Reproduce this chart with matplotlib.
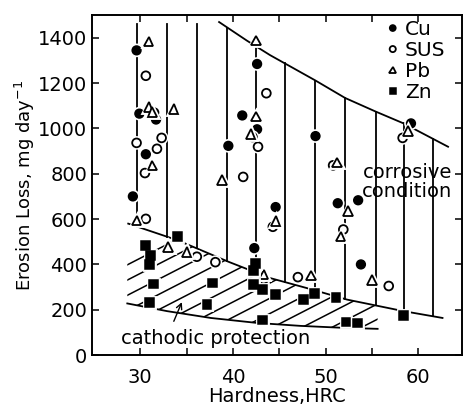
import numpy as np
import matplotlib
matplotlib.use('Agg')
import matplotlib.pyplot as plt
import matplotlib.patheffects as pe
from matplotlib.patches import Polygon

# Cu (filled circles)
cu_x = [29.6, 29.9, 31.5, 31.7, 30.6, 29.2, 42.6, 41.0, 42.6, 39.5, 48.9, 44.6, 42.3, 59.2, 51.3, 53.5, 53.8]
cu_y = [1344, 1065, 1070, 1039, 886, 700, 1284, 1057, 996, 923, 966, 653, 472, 1022, 670, 683, 400]

# SUS (open circles)
sus_x = [30.6, 29.6, 32.3, 31.8, 30.5, 30.6, 36.1, 38.1, 43.6, 42.1, 42.7, 41.1, 50.8, 44.3, 43.3, 47.0, 58.3, 51.9, 56.8]
sus_y = [1232, 936, 958, 910, 803, 601, 434, 410, 1155, 962, 919, 786, 837, 566, 335, 344, 958, 554, 305]

# Pb (open triangles)
pb_x = [30.9, 30.9, 31.3, 33.6, 31.3, 38.8, 29.6, 33.0, 35.0, 42.5, 42.5, 41.9, 44.6, 43.3, 48.4, 58.9, 51.2, 52.4, 51.6, 55.0]
pb_y = [1383, 1095, 1073, 1086, 837, 773, 593, 477, 455, 1387, 1052, 975, 592, 356, 352, 988, 850, 635, 524, 331]

# Zn (filled squares)
zn_x = [30.6, 31.1, 31.0, 31.4, 31.0, 34.0, 37.8, 37.2, 42.4, 42.2, 42.2, 43.2, 44.6, 43.2, 47.6, 48.8, 51.1, 52.2, 53.4, 58.4]
zn_y = [485, 438, 399, 314, 232, 524, 318, 224, 404, 374, 310, 288, 267, 155, 245, 271, 254, 146, 142, 176]

# boundary curves
corr_x = [38.5, 41.5, 44.0, 48.9, 52.1, 55.4, 58.4, 63.2]
corr_y = [1469, 1387, 1323, 1211, 1134, 1074, 1022, 919]
cath_top_x = [28.7, 34.0, 39.5, 44.0, 48.3, 52.3, 58.4, 62.6]
cath_top_y = [580, 507, 412, 340, 292, 245, 194, 164]
cath_bot_x = [28.6, 32.9, 37.6, 42.6, 47.3, 51.6, 55.6]
cath_bot_y = [228, 194, 164, 142, 129, 121, 116]
vline_x = [29.7, 32.9, 36.1, 39.4, 42.5, 45.6, 48.9, 52.1, 55.4, 58.4, 61.6]

fig = plt.figure(figsize=(4.65, 4.12), dpi=100)
ax = fig.add_axes([0.198, 0.138, 0.7955, 0.8256])

# vertical lines between the two regions
for x in vline_x:
    top = min(np.interp(x, corr_x, corr_y), 1460)
    bot = np.interp(x, cath_top_x, cath_top_y)
    ax.plot([x, x], [bot, top], color='black', lw=1.3, zorder=1)

ax.plot(corr_x, corr_y, color='black', lw=1.3, zorder=1)
ax.plot(cath_top_x, cath_top_y, color='black', lw=1.3, zorder=1)
ax.plot(cath_bot_x, cath_bot_y, color='black', lw=1.3, zorder=1)

# hatched cathodic protection region
xs = np.linspace(cath_bot_x[0], cath_bot_x[-1], 40)
poly = np.vstack([np.column_stack([xs, np.interp(xs, cath_top_x, cath_top_y)]),
                  np.column_stack([xs[::-1], np.interp(xs[::-1], cath_bot_x, cath_bot_y)])])
clip = Polygon(poly, closed=True, facecolor='none', edgecolor='none', transform=ax.transData)
ax.add_patch(clip)
slope = 21.0
for c in np.arange(-60, 16, 3.2):
    hx = np.array([20.0, 70.0])
    hy = 100 + slope * (hx - (28 - c))
    ln, = ax.plot(hx, hy, color='black', lw=1.1, zorder=1)
    ln.set_clip_path(clip)

halo = [pe.Stroke(linewidth=3.5, foreground='white'), pe.Normal()]
ms = 6.3
ax.plot(cu_x, cu_y, 'o', ms=ms, mfc='black', mec='black', mew=1.1, label='Cu', path_effects=halo, zorder=3)
ax.plot(sus_x, sus_y, 'o', ms=ms, mfc='white', mec='black', mew=1.3, label='SUS', path_effects=halo, zorder=3)
ax.plot(pb_x, pb_y, '^', ms=ms + 0.5, mfc='white', mec='black', mew=1.3, label='Pb', path_effects=halo, zorder=3)
ax.plot(zn_x, zn_y, 's', ms=ms, mfc='black', mec='black', mew=1.1, label='Zn', path_effects=halo, zorder=3)

ax.annotate('', xy=(34.6, 245), xytext=(33.5, 138),
            arrowprops=dict(arrowstyle='->', color='black', lw=1.0))
ax.text(38.1, 73, 'cathodic protection', ha='center', va='center', fontsize=14)
ax.text(58.8, 765, 'corrosive\ncondition', ha='center', va='center', fontsize=14,
        linespacing=1.0)

ax.set_xlim(24.8, 64.7)
ax.set_ylim(0, 1500)
ax.set_xticks([30, 40, 50, 60])
ax.set_xticks([35, 45, 55], minor=True)
ax.set_yticks(range(0, 1401, 200))
ax.tick_params(which='both', direction='in', top=True, right=True, length=5, width=1.1,
               labelsize=14)
ax.tick_params(axis='x', pad=9)
for s in ax.spines.values():
    s.set_linewidth(1.4)

ax.set_xlabel('Hardness,HRC', fontsize=14, labelpad=0)
ax.set_ylabel('Erosion Loss, mg day$^{-1}$', fontsize=13, labelpad=1)

ax.legend(loc='upper right', frameon=False, fontsize=14.5, borderpad=0, borderaxespad=0,
          bbox_to_anchor=(0.955, 0.985), handlelength=0.6, handletextpad=0.3,
          labelspacing=0.1, markerscale=0.7)

fig.savefig('out.png', dpi=100)
